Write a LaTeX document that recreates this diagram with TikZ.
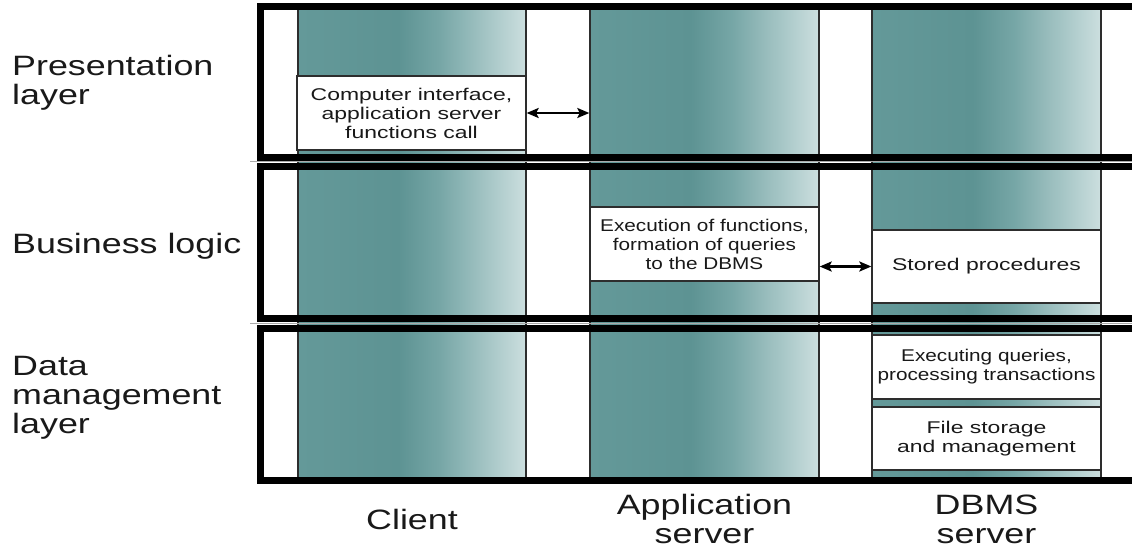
\documentclass[tikz,border=0pt]{standalone}
\usepackage{fontspec}
\setmainfont{Liberation Sans}
\newfontfamily\widesans[FakeStretch=1.28]{Liberation Sans}
\newfontfamily\boxsans[FakeStretch=1.22]{Liberation Sans}
\newfontfamily\boxsanswide[FakeStretch=1.35]{Liberation Sans}
\usetikzlibrary{arrows.meta}

\definecolor{tealA}{RGB}{100,153,153}
\definecolor{tealB}{RGB}{93,147,147}
\definecolor{tealC}{RGB}{118,166,166}
\definecolor{tealD}{RGB}{204,223,223}
\definecolor{inkgray}{RGB}{45,45,45}
\definecolor{textink}{RGB}{25,25,25}
\definecolor{gapgray}{RGB}{170,170,170}

% column fill: teal, darkest a little left of centre, fading to pale on the right
\pgfdeclarehorizontalshading{columnshade}{100bp}{%
  color(0bp)=(tealA); color(25bp)=(tealA); color(47bp)=(tealB);
  color(56bp)=(tealC); color(75bp)=(tealD); color(100bp)=(tealD)}

\tikzset{
  column/.style={draw=inkgray, line width=1.4pt, shading=columnshade,
    minimum height=472pt, inner sep=0pt},
  frame/.style={draw=black, line width=7pt, line join=miter},
  infobox/.style={draw=inkgray, line width=1.3pt, fill=white, align=center,
    inner sep=0pt, text=textink, minimum width=229pt,
    font=\boxsans\fontsize{17}{19}\selectfont},
  widetext/.style={font=\boxsanswide\fontsize{17}{19}\selectfont},
  lbl/.style={inner sep=0pt, text=textink,
    font=\widesans\fontsize{28}{29}\selectfont},
  dblarrow/.style={line width=2.3pt,
    {Stealth[length=12pt,width=10pt,inset=2.5pt]}-{Stealth[length=12pt,width=10pt,inset=2.5pt]}},
}

\begin{document}
\begin{tikzpicture}[x=1pt,y=-1pt]
\useasboundingbox (0,0) rectangle (1132,550);
\clip (0,0) rectangle (1132,550);

% the three tiers as shaded columns
\node[column, minimum width=228pt] (client) at (412,244) {};
\node[column, minimum width=229pt] (app) at (704.5,244) {};
\node[column, minimum width=229pt] (dbms) at (986.5,244) {};

% thin separators between the layer frames
\draw[gapgray, line width=0.8pt] (250,161.5) -- (1132,161.5);
\draw[gapgray, line width=0.8pt] (250,323.2) -- (1132,323.2);

% layer frames (open to the right)
\draw[frame] (1150,6.5) -- (260,6.5) -- (260,157) -- (1150,157);
\draw[frame] (1150,166) -- (260,166) -- (260,318.5) -- (1150,318.5);
\draw[frame] (1150,328) -- (260,328) -- (260,480) -- (1150,480);

% functions of each tier
\node[infobox, widetext, minimum height=74pt] (ui) at (411.5,113)
  {Computer interface,\\application server\\functions call};
\node[infobox, minimum height=74pt] (exec) at (704.5,244)
  {Execution of functions,\\formation of queries\\to the DBMS};
\node[infobox, widetext, minimum height=73pt] (stored) at (986.5,266.5)
  {Stored procedures};
\node[infobox, minimum height=64pt] (queries) at (986.5,367)
  {Executing queries,\\processing transactions};
\node[infobox, widetext, minimum height=63pt] (files) at (986.5,438.5)
  {File storage\\and management};

% interactions between tiers
\draw[dblarrow] (ui.east) -- (ui.east -| app.west);
\draw[dblarrow] (stored.west) -- (stored.west -| exec.east);

% layer names
\node[lbl, anchor=north west, align=left] (pres) at (12,55) {Presentation\\layer};
\node[lbl, anchor=north west, align=left] (biz) at (12,233) {Business logic};
\node[lbl, anchor=north west, align=left] (data) at (12,356) {Data\\management\\layer};

% tier names
\node[lbl, anchor=north, align=center] (clientlbl) at (412,509) {Client};
\node[lbl, anchor=north, align=center] (applbl) at (704.5,494) {Application\\server};
\node[lbl, anchor=north, align=center] (dbmslbl) at (986.5,495) {DBMS\\server};
\end{tikzpicture}
\end{document}
